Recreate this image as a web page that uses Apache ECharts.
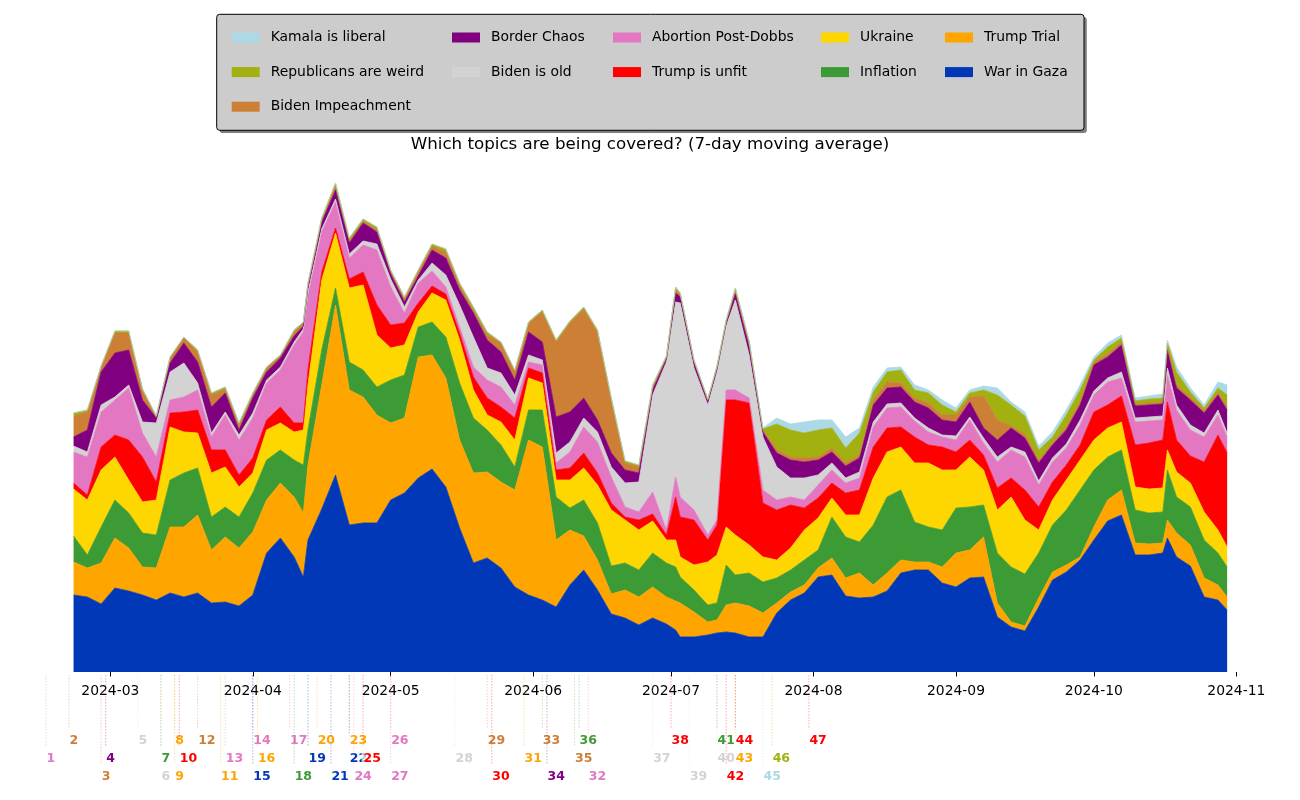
<!DOCTYPE html>
<html><head><meta charset="utf-8">
<script src="https://cdn.jsdelivr.net/npm/echarts@6/dist/echarts.min.js"></script>
<style>html,body{margin:0;padding:0;background:#fff}#c{width:1300px;height:800px}</style>
</head><body><div id="c"></div><script>
// ---------------- DATA ----------------
const dates = ['2024-02-22','2024-02-25','2024-02-28','2024-03-02','2024-03-05','2024-03-08','2024-03-11','2024-03-14','2024-03-17','2024-03-20','2024-03-23','2024-03-26','2024-03-29','2024-04-01','2024-04-04','2024-04-07','2024-04-10','2024-04-12','2024-04-13','2024-04-16','2024-04-19','2024-04-22','2024-04-25','2024-04-28','2024-05-01','2024-05-04','2024-05-07','2024-05-10','2024-05-13','2024-05-16','2024-05-19','2024-05-22','2024-05-25','2024-05-28','2024-05-31','2024-06-03','2024-06-06','2024-06-09','2024-06-12','2024-06-15','2024-06-18','2024-06-21','2024-06-24','2024-06-27','2024-06-30','2024-07-02','2024-07-03','2024-07-06','2024-07-09','2024-07-11','2024-07-13','2024-07-15','2024-07-18','2024-07-21','2024-07-24','2024-07-27','2024-07-30','2024-08-02','2024-08-05','2024-08-08','2024-08-11','2024-08-14','2024-08-17','2024-08-20','2024-08-23','2024-08-26','2024-08-29','2024-09-01','2024-09-04','2024-09-07','2024-09-10','2024-09-13','2024-09-16','2024-09-19','2024-09-22','2024-09-25','2024-09-28','2024-10-01','2024-10-04','2024-10-07','2024-10-10','2024-10-13','2024-10-16','2024-10-17','2024-10-19','2024-10-22','2024-10-25','2024-10-28','2024-10-30'];

const warInGaza = [77,75,68,84,81,77,72,79,75,79, 69,70,66,77,119,134,115,95,132,163, 197,147,149,149,172,179,194,203,185,144, 109,114,104,85,77,72,65,87,102,82, 58,54,47,54,48,42,35,35,37,39, 40,39,35,35,59,72,79,95,97,76, 74,75,81,99,102,102,89,85,94,95, 55,45,41,65,92,100,112,132,151,157, 117,117,119,134,115,106,75,72,62];
const trumpTrial = [33,29,41,50,43,28,32,66,70,78, 53,65,58,63,53,55,60,64,75,124, 170,135,126,108,77,75,121,114,109,88, 90,86,86,97,155,153,67,55,34,30, 20,28,28,31,27,29,34,25,13,13, 27,30,31,24,10,8,8,9,17,18, 25,12,18,13,8,8,16,34,28,40, 14,5,5,9,8,7,3,13,21,25, 12,11,10,18,24,21,19,15,13];
const inflation = [26,13,36,38,35,34,33,47,54,47, 33,30,31,39,40,33,37,48,35,35, 17,28,27,28,43,43,30,33,41,57, 55,42,37,23,30,37,43,22,36,37, 28,27,27,34,34,34,26,22,17,17, 40,28,33,31,25,22,25,18,41,41, 31,60,76,70,40,35,37,45,43,32, 50,55,52,45,47,55,67,57,43,40, 33,31,31,50,36,38,38,32,30];
const ukraine = [47,55,57,43,33,31,35,53,41,35, 44,40,30,20,30,27,28,35,45,70, 55,74,85,52,32,30,15,29,37,43, 28,15,23,27,32,27,17,28,32,38, 56,43,40,32,23,27,20,25,43,48, 38,40,28,25,18,22,30,32,19,22, 27,47,45,43,59,64,60,38,50,35, 43,70,54,23,25,30,30,30,29,28, 23,24,24,20,25,24,28,23,20];
const trumpUnfit = [6,5,23,22,40,45,18,14,20,23, 23,17,12,15,10,16,9,7,15,8, 5,9,13,30,23,22,9,7,6,7, 13,17,15,22,10,10,10,12,15,12, 7,3,10,7,5,43,40,45,22,30, 127,135,142,54,50,43,22,20,15,22, 25,31,24,20,26,18,23,18,17,15, 22,19,30,23,18,15,15,28,23,26, 42,46,48,48,32,27,50,95,94];
const abortion = [31,38,35,35,52,24,25,13,15,20, 13,35,35,40,37,37,78,91,75,40, 26,21,27,55,38,10,20,15,7,6, 10,18,20,13,6,8,7,16,26,31, 26,10,8,22,5,20,20,10,5,5, 10,10,5,13,10,8,8,13,13,10, 12,20,20,20,16,13,10,12,20,12, 26,28,33,22,20,17,20,17,23,18, 23,22,20,27,30,26,25,20,16];
const bidenOld = [6,5,7,3,3,11,34,28,34,7, 4,3,5,5,3,3,3,3,3,3, 3,4,4,6,8,6,3,8,12,22, 30,12,14,10,7,5,10,10,9,10, 10,24,30,97,168,175,194,142,130,148, 64,90,43,53,33,19,22,10,7,5, 6,5,4,4,3,4,2,4,3,5, 5,3,5,4,4,4,5,4,4,6, 4,4,4,7,5,5,4,5,4];
const borderChaos = [9,22,33,44,35,22,5,9,20,21, 26,19,5,15,8,9,6,3,5,7, 9,11,18,12,5,5,4,13,17,15, 24,28,21,15,23,18,36,30,20,12, 14,13,9,5,3,9,6,5,3,3, 3,6,8,5,14,18,16,15,11,12, 14,17,16,16,16,20,15,14,15,10, 17,19,14,18,13,14,15,26,21,27, 12,12,12,18,17,25,20,15,23];
const bidenImpeachment = [21,18,5,20,17,10,1,5,5,10, 12,4,4,3,4,2,4,3,2,2, 4,3,2,3,3,3,4,4,6,5, 3,5,9,8,9,30,75,89,89,88, 53,7,6,3,2,4,3,2,2,2, 2,4,4,2,3,3,4,3,4,3, 3,5,6,4,4,5,5,7,5,32, 20,2,4,3,2,3,3,3,3,3, 2,2,2,3,3,3,2,3,3];
const republicansWeird = [3,2,1,2,2,1,1,1,1,2, 2,2,3,2,1,1,2,1,2,2, 3,2,2,2,1,2,2,2,3,2, 3,3,1,2,1,2,2,2,2,2, 2,2,2,2,1,2,1,1,1,1, 1,2,2,1,26,27,25,27,20,15, 22,8,10,13,8,10,10,3,4,6, 25,21,18,10,6,12,12,2,7,4, 3,4,4,4,13,5,3,4,12];
const kamalaLiberal = [0,0,0,0,0,0,0,0,0,0, 0,0,0,0,0,0,0,0,0,0, 0,0,0,0,0,0,0,0,0,0, 0,0,0,0,0,0,0,0,0,0, 0,0,0,0,0,0,0,0,0,0, 0,0,0,1,6,6,11,10,8,11, 5,5,4,3,5,3,5,4,3,4, 7,3,4,4,5,5,5,3,4,3, 3,3,4,3,5,4,3,6,10];

const monthTicks = ['2024-03','2024-04','2024-05','2024-06','2024-07','2024-08','2024-09','2024-10','2024-11'];

// numbered events: [number, date, topic]
const events = [
 [1,'2024-02-16','Abortion Post-Dobbs'],[2,'2024-02-21','Biden Impeachment'],[3,'2024-02-28','Biden Impeachment'],
 [4,'2024-02-29','Border Chaos'],[5,'2024-03-07','Biden is old'],[6,'2024-03-12','Biden is old'],
 [7,'2024-03-12','Inflation'],[8,'2024-03-15','Trump Trial'],[9,'2024-03-15','Trump Trial'],
 [10,'2024-03-16','Trump is unfit'],[11,'2024-03-25','Trump Trial'],[12,'2024-03-20','Biden Impeachment'],
 [13,'2024-03-26','Abortion Post-Dobbs'],[14,'2024-04-01','Abortion Post-Dobbs'],[15,'2024-04-01','War in Gaza'],
 [16,'2024-04-02','Trump Trial'],[17,'2024-04-09','Abortion Post-Dobbs'],[18,'2024-04-10','Inflation'],
 [19,'2024-04-13','War in Gaza'],[20,'2024-04-15','Trump Trial'],[21,'2024-04-18','War in Gaza'],
 [22,'2024-04-22','War in Gaza'],[23,'2024-04-22','Trump Trial'],[24,'2024-04-23','Abortion Post-Dobbs'],
 [25,'2024-04-25','Trump is unfit'],[26,'2024-05-01','Abortion Post-Dobbs'],[27,'2024-05-01','Abortion Post-Dobbs'],
 [28,'2024-05-15','Biden is old'],[29,'2024-05-22','Biden Impeachment'],[30,'2024-05-23','Trump is unfit'],
 [31,'2024-05-30','Trump Trial'],[32,'2024-06-13','Abortion Post-Dobbs'],[33,'2024-06-03','Biden Impeachment'],
 [34,'2024-06-04','Border Chaos'],[35,'2024-06-10','Biden Impeachment'],[36,'2024-06-11','Inflation'],
 [37,'2024-06-27','Biden is old'],[38,'2024-07-01','Trump is unfit'],[39,'2024-07-05','Biden is old'],
 [40,'2024-07-11','Biden is old'],[41,'2024-07-11','Inflation'],[42,'2024-07-13','Trump is unfit'],
 [43,'2024-07-15','Trump Trial'],[44,'2024-07-15','Trump is unfit'],[45,'2024-07-21','Kamala is liberal'],
 [46,'2024-07-23','Republicans are weird'],[47,'2024-07-31','Trump is unfit']
];

// ---------------- STYLE ----------------
const COLORS = {
  'War in Gaza':'#0038b8','Trump Trial':'#ffa500','Inflation':'#3d9b35','Ukraine':'#ffd700',
  'Trump is unfit':'#ff0000','Abortion Post-Dobbs':'#e377c2','Biden is old':'#d3d3d3',
  'Border Chaos':'#800080','Biden Impeachment':'#cd7f35','Republicans are weird':'#a2b10f',
  'Kamala is liberal':'#add8e6'
};
const FONT = '"DejaVu Sans", "Liberation Sans", sans-serif';
const DAY = 86400000;

function toTime(s){ const p = s.split('-').map(Number); return new Date(p[0], p[1]-1, p[2]||1).getTime(); }
const tickLabelSet = new Set(monthTicks);
function fmtMonth(v){ const d = new Date(v); const s = d.getFullYear() + '-' + String(d.getMonth()+1).padStart(2,'0'); return tickLabelSet.has(s) && d.getDate() === 1 ? s : ''; }

const stackOrder = [
  ['War in Gaza', warInGaza], ['Trump Trial', trumpTrial], ['Inflation', inflation], ['Ukraine', ukraine],
  ['Trump is unfit', trumpUnfit], ['Abortion Post-Dobbs', abortion], ['Biden is old', bidenOld],
  ['Border Chaos', borderChaos], ['Biden Impeachment', bidenImpeachment],
  ['Republicans are weird', republicansWeird], ['Kamala is liberal', kamalaLiberal]
];

// rows of event labels follow chronological order
const chrono = events.map((e,i)=>i).sort((a,b)=> (toTime(events[a][1]) - toTime(events[b][1])) || (events[a][0]-events[b][0]));
const rowOf = [];
chrono.forEach((idx,k)=>{ rowOf[idx] = [1,0,2][k%3]; });

const series = stackOrder.map(([name, vals]) => ({
  name, type:'line', stack:'all', symbol:'none', showSymbol:false, silent:true,
  color: COLORS[name],
  itemStyle:{color: COLORS[name]},
  lineStyle:{width:0.8, color: COLORS[name]},
  areaStyle:{color: COLORS[name], opacity:1},
  data: dates.map((d,i)=>[toTime(d), vals[i]]),
  z: 2
}));

series.push({
  type:'custom', name:'events', silent:true, clip:false, z:5,
  data: events.map(e=>[toTime(e[1]), 0]),
  encode:{x:0, y:1},
  renderItem: function(params, api){
    const ev = events[params.dataIndex];
    const col = COLORS[ev[2]];
    const p = api.coord([api.value(0), 0]);
    const x = p[0], y0 = p[1];
    const rowY = y0 + 69 + rowOf[params.dataIndex]*18;
    return {type:'group', children:[
      {type:'line', shape:{x1:x, y1:y0+3, x2:x, y2:rowY-12},
       style:{stroke:col, lineWidth:1, lineDash:[1.5,1.5], opacity:0.35}},
      {type:'text', x:x-1.5, y:rowY,
       style:{text:String(ev[0]), fill:col, font:'bold 12.5px ' + FONT,
              textAlign:'left', textVerticalAlign:'middle',
              backgroundColor:'rgba(255,255,255,0.7)', padding:[1,2]}}
    ]};
  }
});

const legendCols = [
  {left:231.7, items:['Kamala is liberal','Republicans are weird','Biden Impeachment']},
  {left:452, items:['Border Chaos','Biden is old']},
  {left:613, items:['Abortion Post-Dobbs','Trump is unfit']},
  {left:821, items:['Ukraine','Inflation']},
  {left:945, items:['Trump Trial','War in Gaza']}
];
const legends = legendCols.map(c => ({
  data: c.items, orient:'vertical', left:c.left, top:29.5, padding:0,
  itemWidth:28, itemHeight:10, itemGap:18.6, icon:'rect', selectedMode:false, z:20,
  itemStyle:{borderWidth:0},
  textStyle:{fontFamily:FONT, fontSize:13.9, color:'#000', lineHeight:16, padding:[0,0,0,6]}
}));

const chart = echarts.init(document.getElementById('c'), null, {renderer:'canvas'});
chart.setOption({
  animation:false,
  backgroundColor:'#ffffff',
  title:{text:'Which topics are being covered? (7-day moving average)', left:'center', top:135, padding:0,
         textStyle:{fontFamily:FONT, fontSize:16.7, fontWeight:'normal', color:'#000', lineHeight:20}},
  legend: legends,
  graphic:[
    {type:'rect', z:-2, shape:{x:219.5, y:17.1, width:867.3, height:116, r:3}, style:{fill:'rgba(0,0,0,0.5)'}},
    {type:'rect', z:-1, shape:{x:216.7, y:14.3, width:867.3, height:116, r:3}, style:{fill:'#cccccc', stroke:'#000', lineWidth:1}}
  ],
  grid:{left:18.4, right:22.3, top:158, bottom:128, containLabel:false},
  xAxis:{
    type:'time', min: toTime('2024-02-10'), max: toTime('2024-11-10'),
    minInterval: 28*DAY, maxInterval: 31*DAY,
    axisLine:{show:false}, splitLine:{show:false},
    axisTick:{show:true, length:4.5, lineStyle:{color:'#000', width:1}},
    axisLabel:{show:true, margin:12.5, color:'#000', fontFamily:FONT, fontSize:13.9,
      showMinLabel:false, showMaxLabel:false, formatter: fmtMonth, hideOverlap:false}
  },
  yAxis:{type:'value', min:0, max:514, show:false},
  series
});
</script></body></html>
